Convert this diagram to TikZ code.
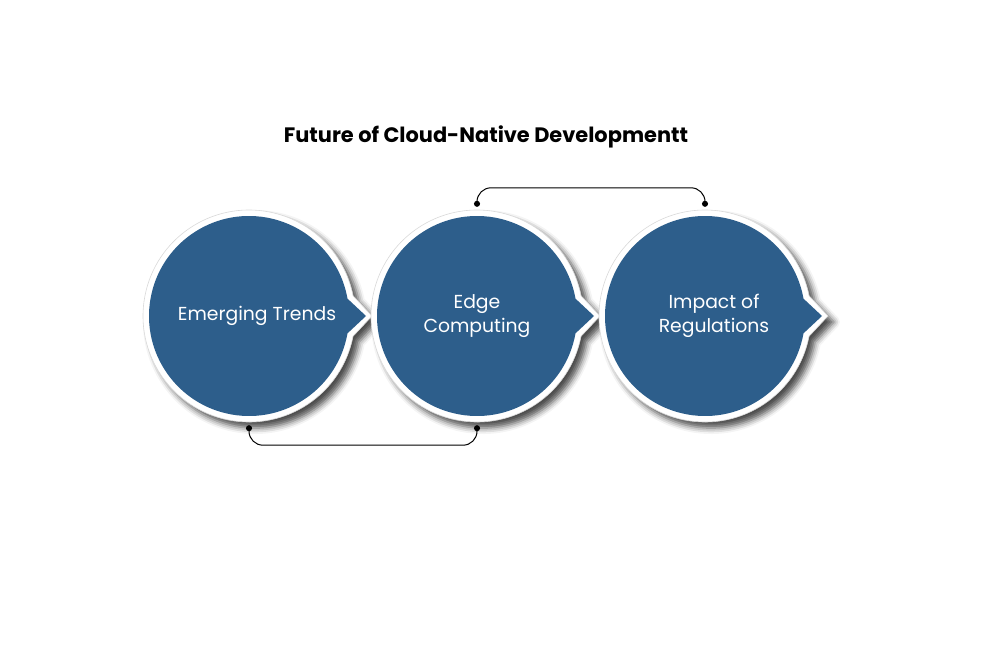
\documentclass[tikz,border=0pt]{standalone}
\usepackage{fontspec}
\setmainfont{Poppins}
\usetikzlibrary{shadows.blur,arrows.meta}
\definecolor{bubblue}{RGB}{45,94,139}
\newcommand\bubbleshape[1]{%
  \path[ring] (#1,316) ++(11:106) arc[start angle=11,end angle=349,radius=106] -- (#1+123,316) -- cycle;
  \fill[bubblue] (#1,316) ++(10:100) arc[start angle=10,end angle=350,radius=100] -- (#1+117,316) -- cycle;
}
\begin{document}
\begin{tikzpicture}[x=1pt,y=-1pt,
  ring/.style={fill=white, draw=black!15, line width=0.6pt,
    blur shadow={shadow xshift=6pt, shadow yshift=-6pt, shadow blur radius=6pt, shadow opacity=70}},
  lbl/.style={text=white, font=\fontsize{18.8}{24.5}\selectfont, align=center},
  anchorc/.style={circle, minimum size=218pt, inner sep=0pt},
  link/.style={draw=black, line width=1pt, rounded corners=14pt, {Circle[length=6pt]}-{Circle[length=6pt]}}]
\useasboundingbox (0,0) rectangle (998,652);
\bubbleshape{249}
\bubbleshape{477}
\bubbleshape{705}
\node[font=\bfseries\fontsize{20.9}{25}\selectfont] (title) at (486,137) {Future of Cloud-Native Developmentt};
\node[anchorc, lbl] (e1) at (249,316) {\hspace*{16pt}Emerging Trends};
\node[anchorc, lbl] (e2) at (477,316) {Edge\\Computing};
\node[anchorc, lbl] (e3) at (705,316) {\hspace*{18pt}Impact of\\\hspace*{18pt}Regulations};
\draw[link] (e2.north) -- ++(0,-19) -| (e3.north);
\draw[link] (e1.south) -- ++(0,20) -| (e2.south);
\end{tikzpicture}
\end{document}
